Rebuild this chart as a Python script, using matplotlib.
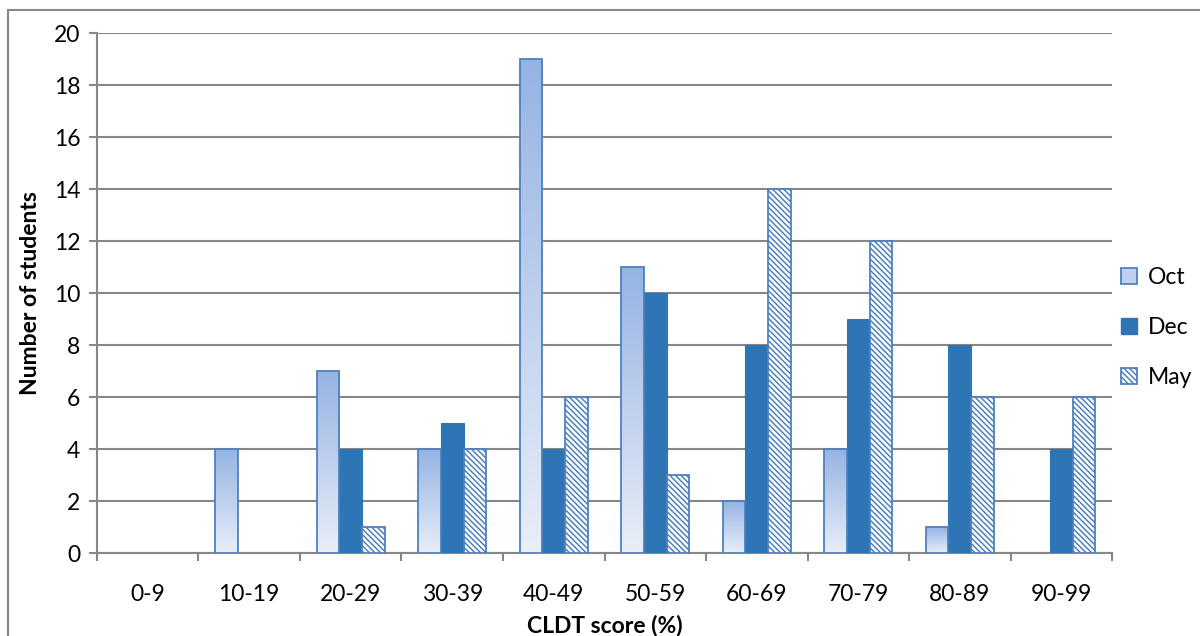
import numpy as np
import matplotlib.pyplot as plt
from matplotlib.patches import Rectangle, Patch
from matplotlib.colors import LinearSegmentedColormap

plt.rcParams['font.family'] = ['Lato', 'DejaVu Sans']
plt.rcParams['hatch.color'] = '#4F81BD'
plt.rcParams['hatch.linewidth'] = 1.1

categories = ['0-9', '10-19', '20-29', '30-39', '40-49',
              '50-59', '60-69', '70-79', '80-89', '90-99']
oct_counts = [0, 4, 7, 4, 19, 11, 2, 4, 1, 0]
dec_counts = [0, 0, 4, 5, 4, 10, 8, 9, 8, 4]
may_counts = [0, 0, 1, 4, 6, 3, 14, 12, 6, 6]
series_names = ['Oct', 'Dec', 'May']

GRID = '#878787'
EDGE = '#4F81BD'
DEC_BLUE = '#2E75B6'
HATCH = '\\' * 6
FS = 16.5
oct_cmap = LinearSegmentedColormap.from_list('oct', ['#E9EEF8', '#95B3E3'])

fig = plt.figure(figsize=(12, 6.36), dpi=100)
ax = fig.add_axes([0.0808, 0.1305, 0.8459, 0.8175])

x = np.arange(len(categories))
w = 1 / 4.5


def edge_for(vals, color):
    return [color if v > 0 else 'none' for v in vals]


# Oct: gradient filled bars
oct_bars = ax.bar(x - w, oct_counts, w, facecolor='none',
                  edgecolor=edge_for(oct_counts, EDGE), linewidth=1.3, zorder=4)
grad = np.linspace(0, 1, 256).reshape(-1, 1)
for b in oct_bars:
    h = b.get_height()
    if h <= 0:
        continue
    x0 = b.get_x()
    ax.imshow(grad, cmap=oct_cmap, origin='lower', aspect='auto',
              extent=[x0, x0 + w, 0, h], zorder=3)

ax.bar(x, dec_counts, w, color=DEC_BLUE, edgecolor=edge_for(dec_counts, DEC_BLUE),
       linewidth=0.8, zorder=3)
may_bars = ax.bar(x + w, may_counts, w, color='white',
                  edgecolor=edge_for(may_counts, EDGE), hatch=HATCH,
                  linewidth=1.3, zorder=3)
for b, v in zip(may_bars, may_counts):
    if v <= 0:
        b.set_hatch(None)

ax.set_xlim(-0.5, len(categories) - 0.5)
ax.set_ylim(0, 20)
ax.set_yticks(range(0, 21, 2))
ax.set_xticks(x)
ax.set_xticklabels(categories)
ax.set_xticks(np.arange(-0.5, len(categories)), minor=True)
ax.tick_params(axis='x', which='major', length=0, pad=22, labelsize=FS)
ax.tick_params(axis='x', which='minor', length=6, width=1.5, color=GRID)
ax.tick_params(axis='y', length=6, width=1.5, color=GRID, labelsize=FS, pad=6)

ax.grid(axis='y', color=GRID, linewidth=1.5, zorder=0)
ax.set_axisbelow(True)
for s in ['top', 'right']:
    ax.spines[s].set_visible(False)
for s in ['left', 'bottom']:
    ax.spines[s].set_color(GRID)
    ax.spines[s].set_linewidth(1.5)

ax.set_ylabel('Number of students', fontsize=FS, fontweight='bold', labelpad=9)
ax.set_xlabel('CLDT score (%)', fontsize=FS, fontweight='bold', labelpad=7)

handles = [
    Patch(facecolor='#BFD0EE', edgecolor=EDGE, linewidth=1.3),
    Patch(facecolor=DEC_BLUE, edgecolor=DEC_BLUE),
    Patch(facecolor='white', edgecolor=EDGE, hatch=HATCH, linewidth=1.3),
]
fig.legend(handles, series_names, loc='center left', bbox_to_anchor=(0.917, 0.485),
           frameon=False, fontsize=FS, handlelength=0.7, handleheight=0.7,
           handletextpad=0.45, labelspacing=1.25)

# outer frame around chart area
fig.patches.append(Rectangle((8 / 1200, -0.1), 1.2, 0.1 + (636 - 10) / 636,
                             transform=fig.transFigure, fill=False,
                             edgecolor=GRID, linewidth=1.5))

fig.savefig('out.png', dpi=100)
